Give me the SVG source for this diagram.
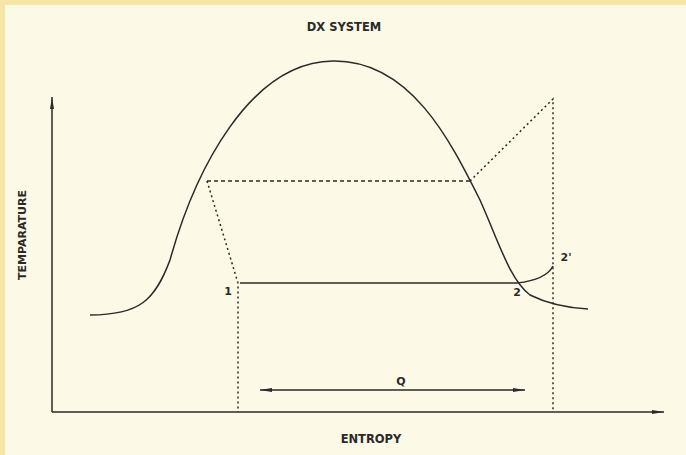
<svg xmlns="http://www.w3.org/2000/svg" width="686" height="455" viewBox="0 0 686 455">
<defs>
<style>
.t{font-family:"DejaVu Sans","Liberation Sans",sans-serif;font-weight:bold;fill:#2a2a2a}
.s{fill:none;stroke:#2a2a2a;stroke-width:1.5}
.d{fill:none;stroke:#2a2a2a;stroke-width:1.5;stroke-dasharray:2 3}
.h{fill:none;stroke:#2a2a2a;stroke-width:1.3;stroke-dasharray:4 3}
</style>
<marker id="ah" viewBox="0 0 12 6" refX="12" refY="3" markerWidth="12" markerHeight="6" orient="auto-start-reverse" markerUnits="userSpaceOnUse">
<path d="M0,1 L12,3 L0,5 z" fill="#2a2a2a"/>
</marker>
</defs>
<rect width="686" height="455" fill="#f6e7a6"/>
<rect x="5" y="5" width="681" height="450" fill="#fcfae6"/>
<g id="title"><text class="t" x="344" y="31" font-size="11.5" text-anchor="middle">DX SYSTEM</text></g>
<g id="axes">
<line class="s" x1="52" y1="412" x2="52" y2="97" marker-end="url(#ah)"/>
<line class="s" x1="52" y1="412" x2="664" y2="412" marker-end="url(#ah)"/>
<text class="t" x="26" y="235" font-size="11" text-anchor="middle" transform="rotate(-90 26 235)">TEMPARATURE</text>
<text class="t" x="371" y="443" font-size="11.5" text-anchor="middle">ENTROPY</text>
</g>
<g id="dome">
<path class="s" d="M90,315 C140,315 155,300 170,260 C195,170 250,62 333,61 C410,60 450,140 480,200 C500,245 510,280 530,295 C550,305 570,308 588,309"/>
</g>
<g id="connectors">
<path class="h" d="M207,181 L470,181"/>
<path class="d" d="M470,181 L553,99 L553,412"/>
<path class="d" d="M207,181 L238,283 L238,412"/>
<path class="s" d="M240,283 L517,283"/>
<path class="s" d="M517,283 C535,281 548,276 553,266"/>
<line class="s" x1="260" y1="390" x2="525" y2="390" marker-start="url(#ah)" marker-end="url(#ah)"/>
</g>
<g id="labels">
<text class="t" x="228" y="295" font-size="11" text-anchor="middle">1</text>
<text class="t" x="517" y="296" font-size="11" text-anchor="middle">2</text>
<text class="t" x="566" y="261" font-size="11" text-anchor="middle">2'</text>
<text class="t" x="401" y="385" font-size="11" text-anchor="middle">Q</text>
</g>
</svg>
